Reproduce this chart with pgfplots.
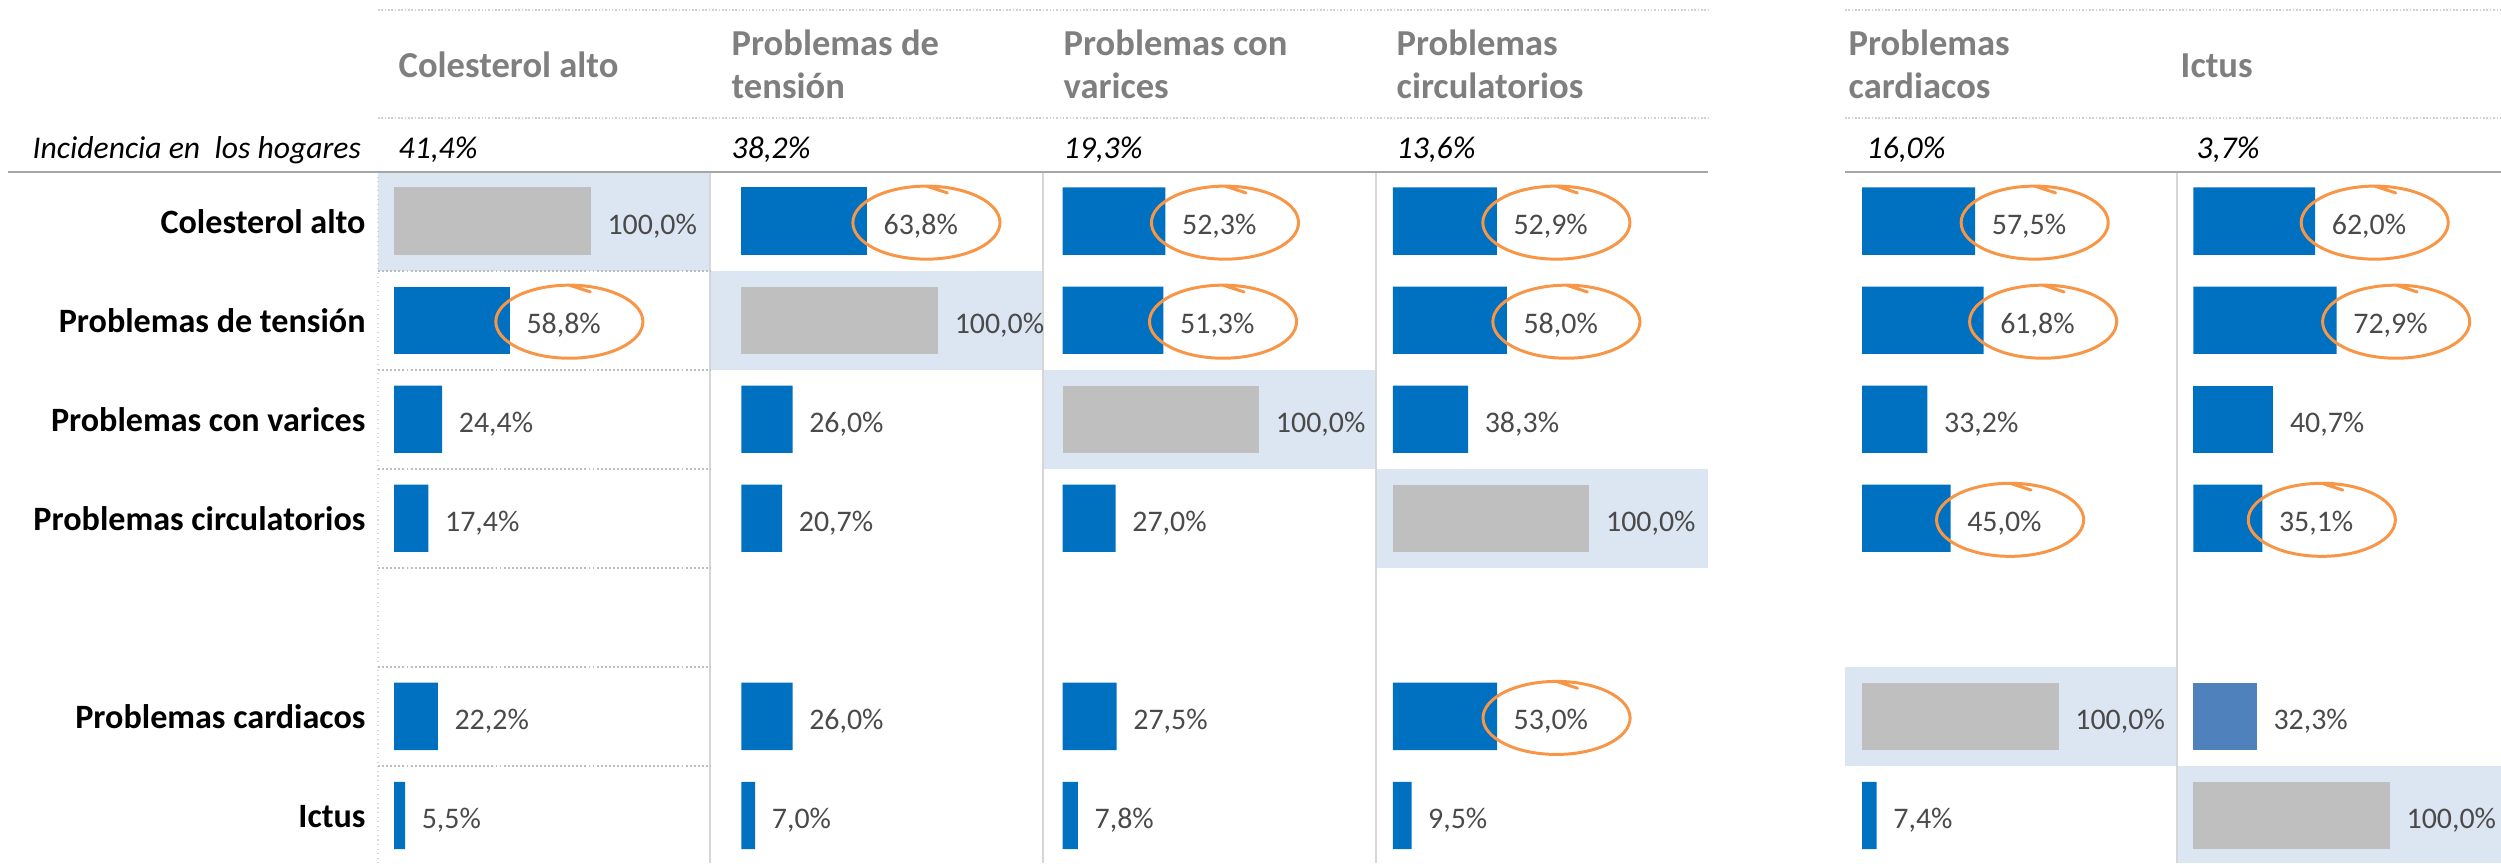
\documentclass[border=0pt]{standalone}
\usepackage{fontspec}
\setmainfont{Carlito}
\usepackage{pgfplots}
\pgfplotsset{compat=1.18}

\definecolor{barblue}{HTML}{0070C0}
\definecolor{baralt}{HTML}{4F81BD}
\definecolor{bargray}{HTML}{BFBFBF}
\definecolor{cellhl}{HTML}{DCE6F2}
\definecolor{ringc}{HTML}{F79646}
\definecolor{valc}{HTML}{4A4A4A}
\definecolor{hdrc}{HTML}{7F7F7F}
\definecolor{gridc}{HTML}{BDBDBD}
\definecolor{sepc}{HTML}{D6D6D6}
\definecolor{rulec}{HTML}{A6A6A6}

% hand-drawn ring round a label; drawn from the data point (bar end)
\tikzset{
  ringed/.style={append after command={\pgfextra{\pgfinterruptpath
    \draw[draw=ringc, fill=none, line width=0.85pt, line cap=round]
      (0.595cm,-0.015cm) ++(90:0.735cm and 0.365cm)
      arc[start angle=90, end angle=-270, x radius=0.735cm, y radius=0.365cm]
      -- ++(-18:0.22cm);
    \endpgfinterruptpath}}},
  hdr/.style={anchor=base west, inner sep=0pt, text=hdrc, font=\bfseries\fontsize{10.4}{12}\selectfont},
  inc/.style={anchor=base west, inner sep=0pt, font=\itshape\fontsize{9}{11}\selectfont},
}

\pgfplotsset{
  cell/.style={
    scale only axis, height=6.91cm, anchor=north west,
    xbar, bar shift=0pt, bar width=0.68,
    ymin=-0.5, ymax=6.48, y dir=reverse,
    xtick=\empty, ytick=\empty,
    minor ytick={0.5,1.5,2.5,3.5,4.5,5.5},
    yminorgrids,
    minor grid style={gridc, line width=0.55pt, dash pattern=on 0.55pt off 0.6pt},
    axis line style={draw=none},
    major tick length=0pt, minor tick length=0pt,
    clip=false,
    point meta=x,
    nodes near coords={\pgfmathprintnumber[fixed, fixed zerofill, precision=1, use comma, assume math mode=true]{\pgfplotspointmeta}\%},
    every node near coord/.append style={anchor=base west, inner sep=0pt, xshift=0.16cm, yshift=-0.135cm,
      font=\fontsize{8.5}{10}\selectfont, text=valc},
  },
  plain/.style={fill=barblue, draw=none},
  alt/.style={fill=baralt, draw=none},
  self/.style={fill=bargray, draw=none},
  ring/.style={fill=barblue, draw=none, every node near coord/.append style={ringed}},
}

\begin{document}
\begin{tikzpicture}[x=0.01cm, y=0.01cm]
\useasboundingbox (0,0) rectangle (2501,863);

% highlighted diagonal cells
\fill[cellhl] (378,691) rectangle (710,592);
\fill[cellhl] (710,592) rectangle (1043,493);
\fill[cellhl] (1043,493) rectangle (1376,394);
\fill[cellhl] (1376,394) rectangle (1708,295);
\fill[cellhl] (1845,196) rectangle (2177,97);
\fill[cellhl] (2177,97) rectangle (2501,0);

% column separators
\draw[sepc, densely dotted, line width=0.3pt] (378,691) -- (378,0);
\foreach \cx in {710,1043,1376,2177} \draw[sepc, line width=0.4pt] (\cx,691) -- (\cx,0);

% header lines
\foreach \yy in {853,745} {
  \draw[gridc!70, line width=0.45pt, dash pattern=on 0.45pt off 0.5pt] (378,\yy) -- (1708,\yy);
  \draw[gridc!70, line width=0.45pt, dash pattern=on 0.45pt off 0.5pt] (1845,\yy) -- (2501,\yy);
}

\begin{axis}[cell, name=c1, at={(3.78cm,6.91cm)}, width=3.32cm, xmin=-8.14, xmax=160.82,
  ytick={0,1,2,3,5,6},
  yticklabels={Colesterol alto, Problemas de tensión, Problemas con varices, Problemas circulatorios, Problemas cardiacos, Ictus},
  yticklabel style={anchor=base east, inner sep=0pt, xshift=-0.12cm, yshift=-0.125cm,
    font=\bfseries\fontsize{9.7}{11}\selectfont}]
\addplot[self] coordinates {(100,0)};
\addplot[ring] coordinates {(58.8,1)};
\addplot[plain] coordinates {(24.4,2) (17.4,3) (22.2,5) (5.5,6)};
\end{axis}

\begin{axis}[cell, name=c2, at={(7.10cm,6.91cm)}, width=3.33cm, xmin=-15.78, xmax=153.69]
\addplot[ring] coordinates {(63.8,0)};
\addplot[self] coordinates {(100,1)};
\addplot[plain] coordinates {(26.0,2) (20.7,3) (26.0,5) (7.0,6)};
\end{axis}

\begin{axis}[cell, name=c3, at={(10.43cm,6.91cm)}, width=3.33cm, xmin=-9.67, xmax=159.80]
\addplot[ring] coordinates {(52.3,0) (51.3,1)};
\addplot[self] coordinates {(100,2)};
\addplot[plain] coordinates {(27.0,3) (27.5,5) (7.8,6)};
\end{axis}

\begin{axis}[cell, name=c4, at={(13.76cm,6.91cm)}, width=3.32cm, xmin=-8.14, xmax=160.82]
\addplot[ring] coordinates {(52.9,0) (58.0,1) (53.0,5)};
\addplot[plain] coordinates {(38.3,2) (9.5,6)};
\addplot[self] coordinates {(100,3)};
\end{axis}

\begin{axis}[cell, name=c5, at={(18.45cm,6.91cm)}, width=3.32cm, xmin=-8.14, xmax=160.82]
\addplot[ring] coordinates {(57.5,0) (61.8,1) (45.0,3)};
\addplot[plain] coordinates {(33.2,2) (7.4,6)};
\addplot[self] coordinates {(100,5)};
\end{axis}

\begin{axis}[cell, name=c6, at={(21.77cm,6.91cm)}, width=3.24cm, xmin=-7.63, xmax=157.26]
\addplot[ring] coordinates {(62.0,0) (72.9,1) (35.1,3)};
\addplot[plain] coordinates {(40.7,2)};
\addplot[alt] coordinates {(32.3,5)};
\addplot[self] coordinates {(100,6)};
\end{axis}

% thick rule under the header
\draw[rulec, line width=0.6pt] (8,691) -- (1708,691);
\draw[rulec, line width=0.6pt] (1845,691) -- (2501,691);

% column headers
\node[hdr] at (398,785) {Colesterol alto};
\node[hdr] at (731,807.5) {Problemas de};
\node[hdr] at (731,764) {tensión};
\node[hdr] at (1063,807.5) {Problemas con};
\node[hdr] at (1063,764) {varices};
\node[hdr] at (1396,807.5) {Problemas};
\node[hdr] at (1396,764) {circulatorios};
\node[hdr] at (1848,807.5) {Problemas};
\node[hdr] at (1848,764) {cardiacos};
\node[hdr] at (2180,785) {Ictus};

% incidence row
\node[inc] at (32,704.5) {Incidencia en\ \ los hogares};
\node[inc] at (398,704.5) {41,4\%};
\node[inc] at (731,704.5) {38,2\%};
\node[inc] at (1063,704.5) {19,3\%};
\node[inc] at (1396,704.5) {13,6\%};
\node[inc] at (1866,704.5) {16,0\%};
\node[inc] at (2196,704.5) {3,7\%};
\end{tikzpicture}
\end{document}
